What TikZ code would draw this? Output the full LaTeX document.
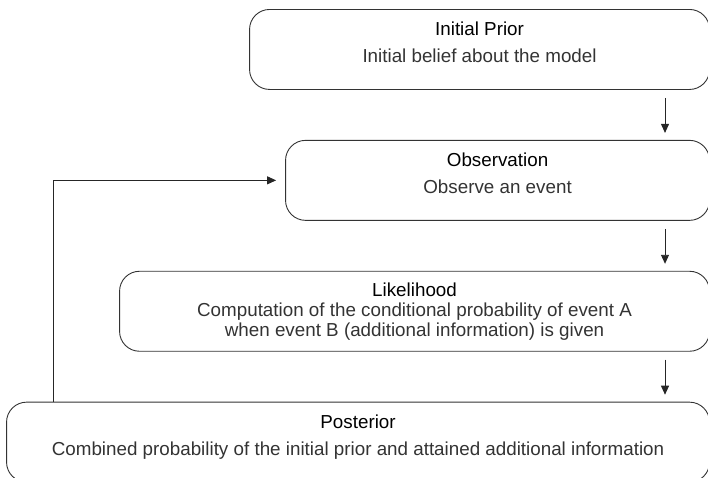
\documentclass[tikz,border=0pt]{standalone}
\usepackage{fontspec}
\setmainfont{Liberation Sans}
\usetikzlibrary{positioning, arrows.meta}
\tikzset{
    x=1pt, y=-1pt, % one unit is one pixel of the picture, y grows downwards
    >={Triangle[length=9pt, width=8pt]}, % solid arrow heads
    box/.style={rectangle, rounded corners=20pt, draw=black!80, line width=0.9pt,
        minimum height=80pt, inner sep=0pt, align=center, text=black!80,
        font=\fontsize{18.8}{27}\selectfont}, % the rounded boxes
    lift/.style={text depth=14pt}, % two line boxes sit their text a bit high
    flow/.style={->, draw=black!85, line width=0.9pt}, % the arrows between boxes
}
\newcommand{\boxtitle}[1]{\textcolor{black}{#1}}

\begin{document}
\begin{tikzpicture}
            \useasboundingbox (0,0) rectangle (708,477);

            \node[box, lift, minimum width=460pt, anchor=north east] (prior) at (710,9)
                {\boxtitle{Initial Prior}\\Initial belief about the model};
            \node[box, lift, minimum width=424pt, below left=50pt and 0pt of prior.south east] (obs)
                {\boxtitle{Observation}\\Observe an event};
            \node[box, minimum width=590pt, below left=50pt and 0pt of obs.south east,
                font=\fontsize{18.8}{20}\selectfont] (like)
                {\boxtitle{Likelihood}\\Computation of the conditional probability of event A\\when event B (additional information) is given};
            \node[box, lift, minimum width=703pt, below left=50pt and 0pt of like.south east] (post)
                {\boxtitle{Posterior}\\Combined probability of the initial prior and attained additional information};

            \draw[flow] ([xshift=-45pt, yshift=-8pt]prior.south east) -- ([xshift=-45pt, yshift=7pt]obs.north east);
            \draw[flow] ([xshift=-45pt, yshift=-8pt]obs.south east) -- ([xshift=-45pt, yshift=7pt]like.north east);
            \draw[flow] ([xshift=-45pt, yshift=-8pt]like.south east) -- ([xshift=-45pt, yshift=7pt]post.north east);
            % back from the posterior to the next observation
            \draw[flow] ([xshift=47pt]post.north west) |- ([xshift=-9pt]obs.west);
        \end{tikzpicture}
\end{document}
